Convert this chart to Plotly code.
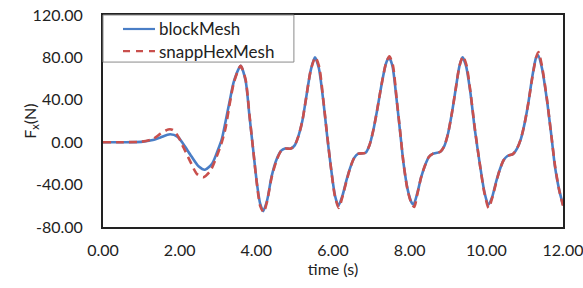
import plotly.graph_objects as go

# blockMesh series
t_block = [0.0, 0.5, 1.0, 1.3, 1.5, 1.75, 1.95, 2.1, 2.3, 2.5, 2.66, 2.85, 3.0, 3.1, 3.2, 3.3, 3.42, 3.59,
           3.72, 3.82, 3.92, 4.02, 4.1, 4.18, 4.28, 4.4, 4.53, 4.65, 4.75, 4.9, 5.0, 5.1, 5.2, 5.3, 5.42, 5.53,
           5.63, 5.75, 5.85, 5.95, 6.05, 6.14, 6.25, 6.35, 6.45, 6.55, 6.65, 6.85, 6.95, 7.05, 7.15, 7.27, 7.38,
           7.46, 7.55, 7.66, 7.75, 7.84, 7.95, 8.05, 8.10, 8.2, 8.3, 8.4, 8.5, 8.6, 8.8, 8.9, 9.0, 9.1, 9.2, 9.3,
           9.38, 9.47, 9.58, 9.7, 9.84, 9.95, 10.05, 10.15, 10.25, 10.35, 10.45, 10.55, 10.7, 10.8, 10.9, 11.0,
           11.1, 11.2, 11.3, 11.35, 11.45, 11.58, 11.7, 11.79, 11.9, 12.0]
f_block = [0, 0, 0.3, 2, 4.5, 7.5, 5, -2, -13, -23, -26, -20, -7, 3, 20, 38, 58, 72,
           58, 25, -8, -40, -58, -65, -55, -32, -16, -8, -6, -6, -3, 6, 20, 42, 68, 80,
           70, 38, 5, -25, -50, -60, -50, -36, -24, -15, -11, -10, -3, 11, 30, 55, 74,
           80, 72, 40, 10, -20, -45, -57, -59, -48, -33, -22, -14, -11, -9, -4, 8, 27, 50, 72,
           80, 72, 48, 12, -23, -47, -59, -52, -38, -26, -17, -13, -11, -6, 3, 18,
           38, 62, 80, 82, 70, 40, 5, -23, -45, -59]

# snappHexMesh series
t_snappy = [0.0, 0.5, 1.0, 1.3, 1.5, 1.7, 1.82, 1.95, 2.1, 2.3, 2.45, 2.62, 2.8, 2.95, 3.1, 3.2, 3.3, 3.42, 3.59,
            3.72, 3.82, 3.92, 4.02, 4.1, 4.19, 4.28, 4.4, 4.53, 4.65, 4.75, 4.9, 5.0, 5.1, 5.2, 5.3, 5.42, 5.54,
            5.64, 5.75, 5.85, 5.95, 6.05, 6.15, 6.25, 6.35, 6.45, 6.55, 6.65, 6.85, 6.95, 7.05, 7.15, 7.27, 7.38,
            7.47, 7.56, 7.66, 7.75, 7.84, 7.95, 8.05, 8.12, 8.2, 8.3, 8.4, 8.5, 8.6, 8.8, 8.9, 9.0, 9.1, 9.2, 9.3,
            9.39, 9.48, 9.58, 9.7, 9.84, 9.95, 10.06, 10.15, 10.25, 10.35, 10.45, 10.55, 10.7, 10.8, 10.9, 11.0,
            11.1, 11.2, 11.3, 11.36, 11.45, 11.58, 11.7, 11.8, 11.9, 12.0]
f_snappy = [0, 0, 0.5, 3, 8, 12, 11.5, 6, -5, -20, -30, -33, -27, -15, 0, 14, 35, 57, 72,
            59, 26, -8, -41, -60, -66, -56, -33, -17, -8, -6, -6, -3, 6, 20, 42, 68, 80,
            71, 39, 6, -25, -51, -62, -51, -37, -24, -15, -11, -10, -3, 11, 30, 55, 74,
            81, 73, 41, 11, -20, -46, -58, -61, -49, -33, -22, -14, -11, -9, -4, 8, 27, 50, 72,
            81, 73, 49, 13, -23, -48, -62, -53, -39, -26, -17, -13, -11, -6, 3, 18,
            38, 61, 80, 85, 72, 41, 5, -24, -45, -60]

series_names = ["blockMesh", "snappHexMesh"]
x_ticks = [0, 2, 4, 6, 8, 10, 12]
x_tick_labels = ["0.00", "2.00", "4.00", "6.00", "8.00", "10.00", "12.00"]
y_ticks = [-80, -40, 0, 40, 80, 120]
y_tick_labels = ["-80.00", "-40.00", "0.00", "40.00", "80.00", "120.00"]

FONT = "Lato, 'Open Sans', sans-serif"
BLUE = "#4A7EC6"
RED = "#C9504D"
TXT = "#222222"

fig = go.Figure()
fig.add_trace(go.Scatter(x=t_block, y=f_block, mode="lines", name=series_names[0],
                         line=dict(color=BLUE, width=2.6, shape="spline", smoothing=0.7)))
fig.add_trace(go.Scatter(x=t_snappy, y=f_snappy, mode="lines", name=series_names[1],
                         line=dict(color=RED, width=2.6, dash="8px,5px", shape="spline", smoothing=0.7)))

# Legend box (drawn manually to match the reference's layout)
lg_x0, lg_x1, lg_y0, lg_y1 = 0.0, 0.415, 0.778, 1.0
row_y = [0.934, 0.830]
sym_x0, sym_x1, txt_x = 0.0435, 0.113, 0.118
shapes = [dict(type="rect", xref="paper", yref="paper", x0=lg_x0, x1=lg_x1, y0=lg_y0, y1=lg_y1,
               fillcolor="white", line=dict(color="#8a8a8a", width=1), layer="above")]
shapes.append(dict(type="line", xref="paper", yref="paper", x0=sym_x0, x1=sym_x1, y0=row_y[0], y1=row_y[0],
                   line=dict(color=BLUE, width=2.2), layer="above"))
shapes.append(dict(type="line", xref="paper", yref="paper", x0=sym_x0, x1=sym_x1, y0=row_y[1], y1=row_y[1],
                   line=dict(color=RED, width=2.2, dash="7px,6px"), layer="above"))
annotations = [dict(text=name, xref="paper", yref="paper", x=txt_x, y=yy, xanchor="left", yanchor="middle",
                    showarrow=False, font=dict(family=FONT, size=17, color=TXT))
               for name, yy in zip(series_names, row_y)]
annotations.append(dict(text="F<sub>x</sub>(N)", xref="paper", yref="paper", x=-0.159, y=0.5,
                        xanchor="center", yanchor="middle", textangle=-90, showarrow=False,
                        font=dict(family=FONT, size=16, color=TXT)))

fig.update_layout(
    width=583, height=288,
    margin=dict(l=103, r=20, t=15, b=61, autoexpand=False),
    paper_bgcolor="white", plot_bgcolor="white",
    font=dict(family=FONT, size=16, color=TXT),
    showlegend=False,
    shapes=shapes,
    annotations=annotations,
    xaxis=dict(range=[0, 12], tickvals=x_ticks, ticktext=x_tick_labels,
               showgrid=False, zeroline=False, showline=True, linecolor=TXT,
               linewidth=2, mirror=True, ticks="", automargin=False, ticklabelstandoff=8,
               ticklabeloverflow="allow",
               title=dict(text="time (s)", font=dict(family=FONT, size=16), standoff=4)),
    yaxis=dict(range=[-80, 120], tickvals=y_ticks, ticktext=y_tick_labels,
               showgrid=False, zeroline=False, showline=True, linecolor=TXT,
               linewidth=2, mirror=True, ticks="", ticklabelstandoff=15, automargin=False,
               ticklabeloverflow="allow"),
)

fig.write_html("out.html", config={"displayModeBar": False},
               post_script="document.body.style.margin='0';")
